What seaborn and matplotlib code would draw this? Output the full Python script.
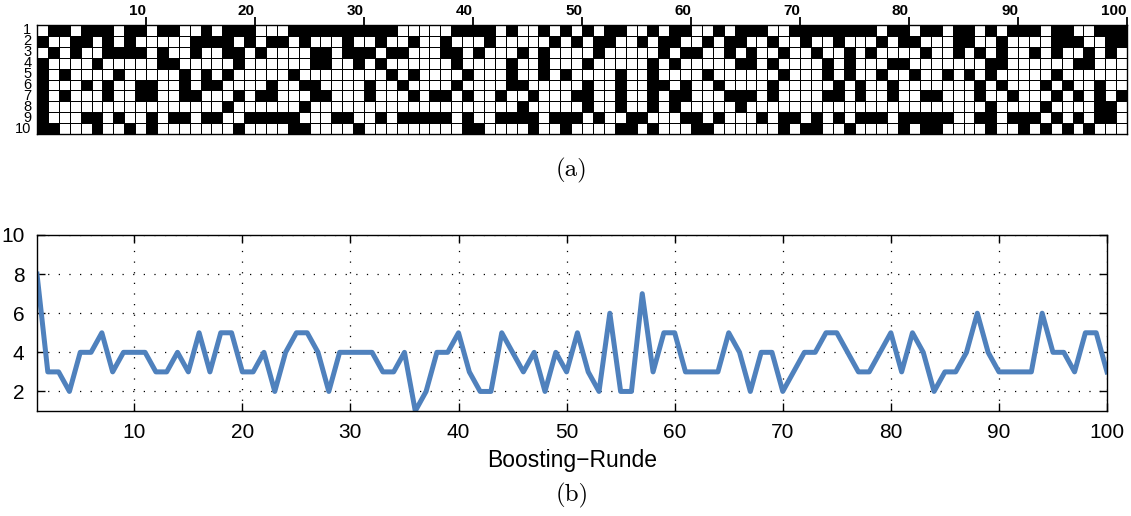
import numpy as np
import pandas as pd
import matplotlib
matplotlib.use("Agg")
import matplotlib.pyplot as plt
import matplotlib.transforms as mtransforms
import seaborn as sns
from matplotlib.colors import ListedColormap

# ---------------- data ----------------
rounds = list(range(1, 101))
features = list(range(1, 11))

# rows (features) that are black in each boosting round (column)
selected = [
    [2, 4, 5, 6, 7, 8, 9, 10], [1, 3, 10], [1, 5, 7], [2, 3], [1, 2, 6, 9],
    [1, 4, 9, 10], [1, 2, 3, 6, 7], [3, 5, 9], [1, 2, 3, 10], [1, 3, 6, 7],
    [6, 7, 9, 10], [1, 3, 4], [1, 4, 9], [5, 6, 7, 9], [2, 3, 7],
    [1, 2, 5, 6, 9], [2, 6, 9], [1, 2, 3, 5, 8], [1, 3, 4, 7, 10], [1, 2, 9],
    [3, 7, 9], [2, 6, 7, 9], [2, 9], [1, 5, 9, 10], [1, 2, 6, 8, 10],
    [1, 3, 4, 6, 7], [1, 3, 4, 7], [1, 9], [1, 2, 3, 9], [1, 3, 4, 10],
    [1, 3, 6, 7], [1, 2, 4, 9], [1, 3, 5], [3, 6, 9], [2, 5, 7, 9],
    [9], [7, 9], [2, 3, 7, 9], [1, 3, 4, 6], [1, 5, 7, 9, 10],
    [1, 3, 10], [1, 2], [7, 9], [1, 4, 5, 6, 9], [3, 6, 8, 9],
    [7, 9, 10], [1, 3, 4, 5], [2, 9], [1, 5, 9, 10], [2, 7, 9],
    [1, 4, 6, 7, 8], [2, 3, 9], [1, 2], [1, 5, 6, 7, 8, 10], [9, 10],
    [2, 9], [1, 4, 5, 6, 7, 8, 10], [2, 3, 6], [1, 2, 4, 7, 8], [1, 3, 6, 7, 9],
    [3, 9, 10], [2, 5, 10], [1, 6, 9], [2, 3, 7], [1, 2, 4, 7, 8],
    [1, 3, 4, 7], [1, 9], [2, 4, 6, 7], [3, 5, 9, 10], [1, 9],
    [1, 2, 10], [1, 3, 9, 10], [1, 4, 5, 7], [1, 2, 6, 7, 9], [1, 3, 4, 5, 10],
    [1, 6, 7, 9], [1, 3, 9], [2, 5, 9], [1, 4, 6, 7], [1, 2, 4, 9, 10],
    [2, 5, 9], [1, 3, 7, 9, 10], [1, 7, 9, 10], [5, 9], [1, 2, 3],
    [1, 2, 5], [3, 6, 7, 9], [1, 4, 5, 8, 9, 10], [2, 3, 4, 6], [1, 7, 9],
    [1, 9, 10], [1, 3, 9], [6, 8, 10], [1, 2, 3, 5, 7, 9], [1, 2, 6, 10],
    [2, 4, 7, 9], [3, 4, 10], [1, 6, 7, 8, 9], [1, 2, 3, 8, 9], [1, 2, 7],
]

n_features = [
    8, 3, 3, 2, 4, 4, 5, 3, 4, 4,
    4, 3, 3, 4, 3, 5, 3, 5, 5, 3,
    3, 4, 2, 4, 5, 5, 4, 2, 4, 4,
    4, 4, 3, 3, 4, 1, 2, 4, 4, 5,
    3, 2, 2, 5, 4, 3, 4, 2, 4, 3,
    5, 3, 2, 6, 2, 2, 7, 3, 5, 5,
    3, 3, 3, 3, 5, 4, 2, 4, 4, 2,
    3, 4, 4, 5, 5, 4, 3, 3, 4, 5,
    3, 5, 4, 2, 3, 3, 4, 6, 4, 3,
    3, 3, 3, 6, 4, 4, 3, 5, 5, 3,
]

top_ticks = [10, 20, 30, 40, 50, 60, 70, 80, 90, 100]
y_ticks = [2, 4, 6, 8, 10]
x_label = "Boosting\u2212Runde"

# ---------------- build matrix ----------------
mat = np.zeros((len(features), len(rounds)))
for j, rows in enumerate(selected):
    for r in rows:
        mat[r - 1, j] = 1
df = pd.DataFrame(mat, index=features, columns=rounds)

plt.rcParams["font.family"] = ["Liberation Sans", "DejaVu Sans"]

W, H = 1131, 516
fig = plt.figure(figsize=(W / 100, H / 100), dpi=100)

# ---------------- (a) matrix ----------------
ax1 = fig.add_axes([37 / W, 1 - 134 / H, 1090 / W, 109 / H])
sns.heatmap(df, ax=ax1, cmap=ListedColormap(["white", "black"]), vmin=0, vmax=1,
            cbar=False, linewidths=0.55, linecolor="black")
ax1.xaxis.tick_top()
ax1.set_xticks(top_ticks)
ax1.set_xticklabels([str(t) for t in top_ticks], fontweight="bold", fontsize=11,
                    ha="right")
shift = mtransforms.ScaledTranslation(-4 / 100, 0, fig.dpi_scale_trans)
for lab in ax1.get_xticklabels():
    lab.set_transform(lab.get_transform() + shift)
ax1.set_yticks(np.arange(len(features)) + 0.5)
ax1.set_yticklabels([str(f) for f in features], rotation=0, fontsize=10.5,
                    va="center")
ax1.tick_params(axis="x", direction="out", length=6, width=1.3, pad=-1, colors="black")
ax1.tick_params(axis="y", length=0, pad=4)
ax1.set_xlabel("")
ax1.set_ylabel("")
for s in ax1.spines.values():
    s.set_visible(True)
    s.set_linewidth(1.0)
    s.set_color("black")

fig.text(572 / W, 1 - 170 / H, "(a)", ha="center", va="center",
         fontfamily="cmr10", fontsize=18)

# ---------------- (b) line ----------------
ax2 = fig.add_axes([37 / W, 1 - 411 / H, 1070 / W, 176 / H])
sns.lineplot(x=rounds, y=n_features, ax=ax2, color="#4F81BD", linewidth=3.6)
ax2.set_xlim(1, 100)
ax2.set_ylim(1, 10)
ax2.set_xticks(top_ticks)
ax2.set_yticks(y_ticks)
ax2.grid(True, linestyle=(0, (1, 7.5)), color="black", linewidth=0.9)
ax2.tick_params(direction="in", top=True, right=True, length=6, width=1,
                labelsize=15, pad=9)
ax2.set_xlabel(x_label, fontsize=16.5, labelpad=5)
ax2.set_ylabel("")
for s in ax2.spines.values():
    s.set_linewidth(1.0)
    s.set_color("black")

fig.text(572 / W, 1 - 495 / H, "(b)", ha="center", va="center",
         fontfamily="cmr10", fontsize=18)

fig.savefig("out.png", dpi=100, facecolor="white")
